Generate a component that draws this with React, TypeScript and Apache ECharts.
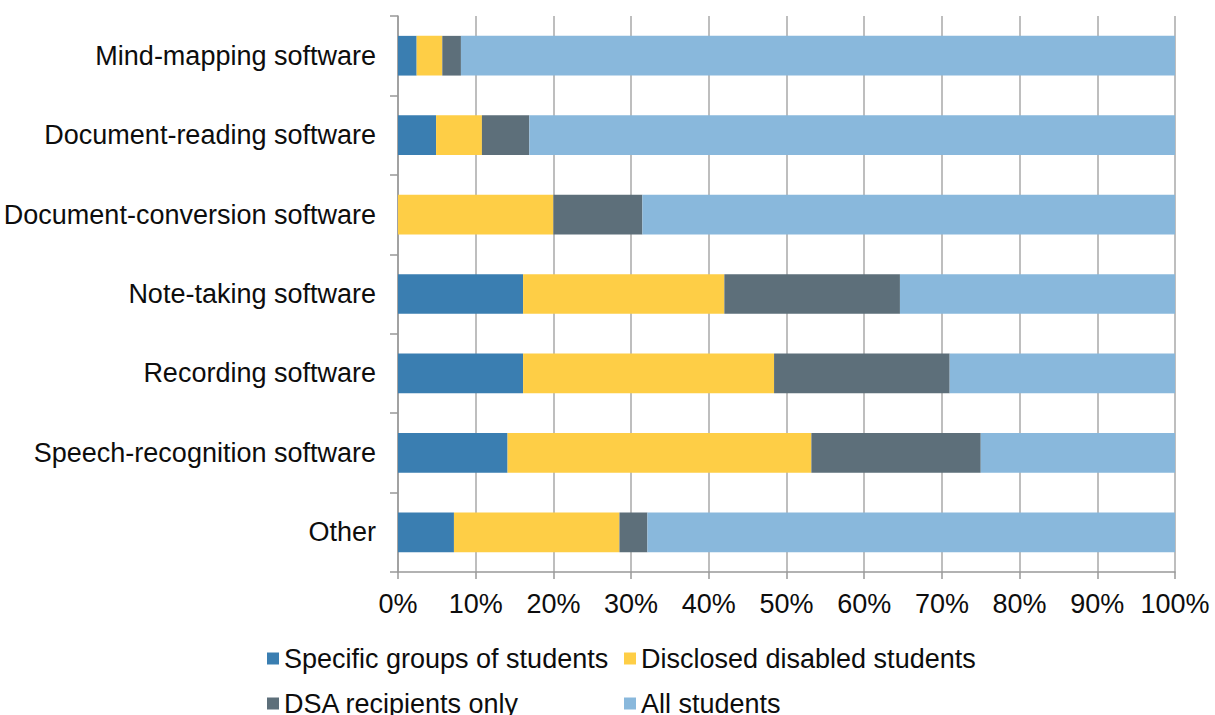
import React, { useEffect, useRef } from "react";
import * as echarts from "echarts";

const categories = [
  "Mind-mapping software",
  "Document-reading software",
  "Document-conversion software",
  "Note-taking software",
  "Recording software",
  "Speech-recognition software",
  "Other",
];

const seriesNames = [
  "Specific groups of students",
  "Disclosed disabled students",
  "DSA recipients only",
  "All students",
];

const specificGroups = [2.4, 4.9, 0, 16.1, 16.1, 14.1, 7.2];
const disclosedDisabled = [3.3, 5.9, 20.0, 25.9, 32.3, 39.1, 21.3];
const dsaRecipients = [2.4, 6.1, 11.45, 22.6, 22.6, 21.8, 3.6];
const allStudents = [91.9, 83.1, 68.55, 35.4, 29.0, 25.0, 67.9];

const xTicks = { min: 0, max: 100, interval: 10 };

const colors = ["#3A7EB1", "#FECE46", "#5D6F7A", "#89B8DC"];

export default function App() {
  const ref = useRef<HTMLDivElement>(null);

  useEffect(() => {
    if (!ref.current) return;
    const chart = echarts.init(ref.current, null, { renderer: "svg" });
    const font = "Liberation Sans, Arial, sans-serif";
    const textColor = "#0d0d0d";
    const fs = 27;
    const dataSets = [specificGroups, disclosedDisabled, dsaRecipients, allStudents];

    const legendPos = [
      { left: 267, top: 645 },
      { left: 624, top: 645 },
      { left: 267, top: 690 },
      { left: 624, top: 690 },
    ];

    chart.setOption({
      animation: false,
      backgroundColor: "#fff",
      grid: { left: 398, right: 40, top: 16, bottom: 143, containLabel: false },
      legend: seriesNames.map((n, i) => ({
        data: [n],
        left: legendPos[i].left,
        top: legendPos[i].top,
        padding: 0,
        itemWidth: 12,
        itemHeight: 12,
        icon: "rect",
        textStyle: { fontFamily: font, fontSize: fs, color: textColor },
      })),
      xAxis: {
        type: "value",
        min: xTicks.min,
        max: xTicks.max,
        interval: xTicks.interval,
        axisLine: { show: true, lineStyle: { color: "#999", width: 1.5 } },
        axisTick: { show: true, length: 7, lineStyle: { color: "#999", width: 1.5 } },
        axisLabel: {
          formatter: "{value}%",
          fontFamily: font,
          fontSize: fs,
          color: textColor,
          margin: 18,
        },
        splitLine: { show: true, lineStyle: { color: "#A8A8A8", width: 1.5 } },
      },
      yAxis: {
        type: "category",
        data: categories,
        inverse: true,
        axisLine: { show: true, lineStyle: { color: "#999", width: 1.5 } },
        axisTick: { show: true, length: 8, lineStyle: { color: "#999", width: 1.5 } },
        axisLabel: {
          fontFamily: font,
          fontSize: fs,
          color: textColor,
          margin: 22,
        },
      },
      series: seriesNames.map((n, i) => ({
        name: n,
        type: "bar",
        stack: "total",
        data: dataSets[i],
        barWidth: "50%",
        itemStyle: { color: colors[i] },
      })),
    });

    return () => chart.dispose();
  }, []);

  return (
    <div
      ref={ref}
      style={{ position: "fixed", left: 0, top: 0, width: 1215, height: 715 }}
    />
  );
}
